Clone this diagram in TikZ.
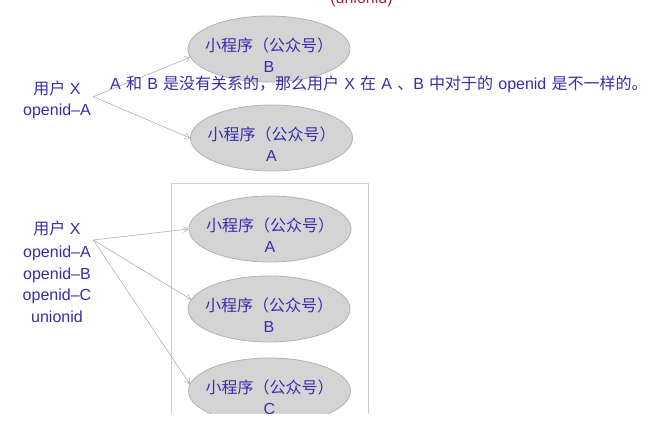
\documentclass[tikz,border=0pt]{standalone}
\usepackage{fontspec}
\setmainfont{Liberation Sans}
\newfontfamily\zhfont{Noto Sans CJK SC}
\newcommand{\zh}[1]{{\zhfont #1}}
\usetikzlibrary{shapes.geometric,arrows.meta,calc}
\definecolor{txtblue}{RGB}{55,45,175}
\definecolor{ellfill}{RGB}{212,212,212}
\definecolor{ellborder}{RGB}{178,178,178}
\definecolor{arrowgray}{RGB}{165,165,165}
\definecolor{boxgray}{RGB}{205,205,205}
\definecolor{redtxt}{RGB}{160,40,60}
\begin{document}
\begin{tikzpicture}[x=1pt,y=-1pt,
  app/.style={ellipse, draw=ellborder, fill=ellfill, line width=0.8pt,
    minimum width=162pt, minimum height=66pt, inner sep=0pt},
  txt/.style={text=txtblue, font=\fontsize{16}{19}\selectfont, inner sep=0pt, anchor=base},
  link/.style={draw=arrowgray, line width=0.5pt,
    -{Straight Barb[length=5pt,width=6pt,line width=0.5pt]}}]
\useasboundingbox (0,0) rectangle (648,438);
\fill[white] (0,0) rectangle (648,438);
\clip (0,0) rectangle (648,413.3);

% top red (cut) text
\node[txt, text=redtxt] (uid) at (361.5,3.5) {(unionid)};

% ---------- top group ----------
\node[app] (tb) at (269,49) {};
\node[txt] (tb1) at ($(tb.center)+(0,2.5)$) {\zh{小程序（公众号）}};
\node[txt] (tb2) at ($(tb.center)+(0,23.5)$) {B};

\node[app] (ta) at (271.5,138) {};
\node[txt] (ta1) at ($(ta.center)+(0,3)$) {\zh{小程序（公众号）}};
\node[txt] (ta2) at ($(ta.center)+(0,24)$) {A};

\node[txt] (u1a) at (57,94.3) {\zh{用户} X};
\node[txt] (u1b) at (57,115.7) {openid–A};
\coordinate (u1) at (93.3,96.7);

\draw[link] (u1) -- (tb.186);
\draw[link] (u1) -- (ta.west);

% annotation
\node[txt, anchor=base west] (note) at (110,89.5)
  {\spaceskip=5.2pt\relax A \zh{和} B \zh{是没有关系的，那么用户} X \zh{在} A \zh{、}B \zh{中对于的} openid \zh{是不一样的。}};

% ---------- bottom group ----------
\draw[boxgray, line width=1pt] (171.7,430) -- (171.7,184) -- (368.3,184) -- (368.3,430);

\node[app] (la) at (270,229) {};
\node[txt] (la1) at ($(la.center)+(0,2.5)$) {\zh{小程序（公众号）}};
\node[txt] (la2) at ($(la.center)+(0,23.5)$) {A};

\node[app] (lb) at (269,309) {};
\node[txt] (lb1) at ($(lb.center)+(0,2.5)$) {\zh{小程序（公众号）}};
\node[txt] (lb2) at ($(lb.center)+(0,23.5)$) {B};

\node[app] (lc) at (269.5,391) {};
\node[txt] (lc1) at ($(lc.center)+(0,2.5)$) {\zh{小程序（公众号）}};
\node[txt] (lc2) at ($(lc.center)+(0,23.5)$) {C};

\node[txt] (u2a) at (57,234.5) {\zh{用户} X};
\node[txt] (u2b) at (57,257.5) {openid–A};
\node[txt] (u2c) at (57,279.5) {openid–B};
\node[txt] (u2d) at (57,301) {openid–C};
\node[txt] (u2e) at (57,323) {unionid};
\coordinate (u2) at (93.3,240);

\draw[link] (u2) -- (la.west);
\draw[link] (u2) -- (lb.173);
\draw[link] (u2) -- (lc.175);
\end{tikzpicture}
\end{document}
